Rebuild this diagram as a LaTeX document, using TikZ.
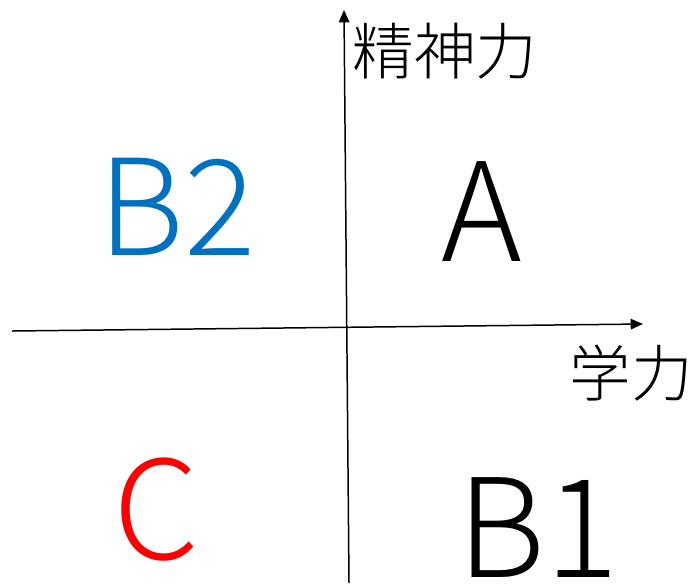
\documentclass[tikz,border=0pt]{standalone}
\usepackage{fontspec}
\setmainfont{Noto Sans CJK JP}[UprightFont=* Light]
\usepackage{xcolor}
\usetikzlibrary{arrows.meta}
\definecolor{blB}{RGB}{0,112,192}

\tikzset{
    axis/.style={line width=0.85pt, -{Triangle[length=7pt,width=6pt]}},
    big/.style={inner sep=0pt, font=\fontsize{78}{88}\selectfont},
    axlabel/.style={inner sep=0pt, font=\fontsize{35}{42}\selectfont}
}

\begin{document}
\begin{tikzpicture}[x=0.02cm, y=-0.02cm]
    \useasboundingbox (0,0) rectangle (693,583);
    \coordinate (ybot) at (349,583);
    \coordinate (ytop) at (344,10);
    \coordinate (xleft) at (12,331);
    \coordinate (xright) at (643,324);
    \draw[axis] (ybot) -- (ytop);
    \draw[axis] (xleft) -- (xright);
    \node[axlabel] (seishin) at (445,51) {精神力};
    \node[axlabel] (gaku) at (631,373) {学力};
    \node[big, text=blB, font=\fontsize{76}{86}\selectfont] (b2) at (177,207) {B2};
    \node[big] (a) at (482,212) {A};
    \node[big, text=red] (c) at (156,510) {C};
    \node[big] (b1) at (538,528) {B1};
\end{tikzpicture}
\end{document}
